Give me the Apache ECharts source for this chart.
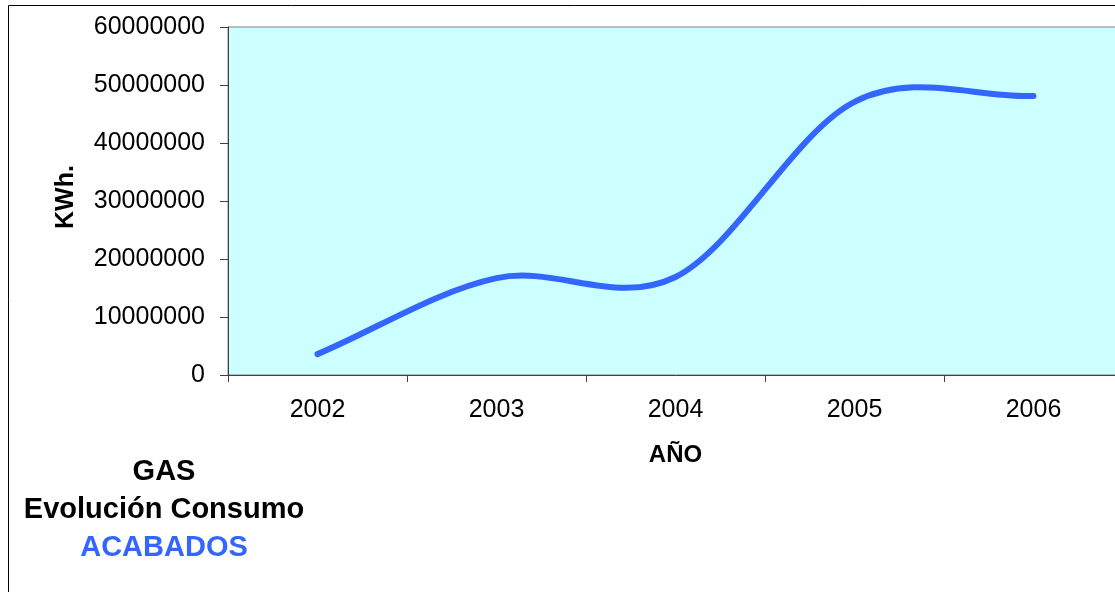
<!DOCTYPE html>
<html>
<head>
<meta charset="utf-8">
<script src="https://cdn.jsdelivr.net/npm/echarts@6/dist/echarts.min.js"></script>
<style>
  html, body { margin: 0; padding: 0; background: #ffffff; overflow: hidden; }
  #chart { width: 1140px; height: 592px; }
</style>
</head>
<body>
<div id="chart"></div>
<script>
// Yearly gas consumption (kWh) for the finishing section
const years = ['2002', '2003', '2004', '2005', '2006'];
const consumo = [3600000, 16700000, 16900000, 47100000, 48100000];
const yTicks = [0, 10000000, 20000000, 30000000, 40000000, 50000000, 60000000];

const FONT = '"Liberation Sans", Arial, sans-serif';
const BLUE = '#3366FF';

// Spreadsheet-style smoothed line: cubic Bezier through every point,
// tangents from the neighbouring points (end points reflected).
function smoothPath(api) {
  const pts = consumo.map((v, i) => api.coord([i, v]));
  const n = pts.length;
  const at = i => {
    if (i < 0) return [2 * pts[0][0] - pts[1][0], 2 * pts[0][1] - pts[1][1]];
    if (i >= n) return [2 * pts[n - 1][0] - pts[n - 2][0], 2 * pts[n - 1][1] - pts[n - 2][1]];
    return pts[i];
  };
  let d = 'M' + pts[0][0] + ' ' + pts[0][1];
  for (let i = 0; i < n - 1; i++) {
    const p0 = at(i - 1), p1 = at(i), p2 = at(i + 1), p3 = at(i + 2);
    const c1 = [p1[0] + (p2[0] - p0[0]) / 6, p1[1] + (p2[1] - p0[1]) / 6];
    const c2 = [p2[0] - (p3[0] - p1[0]) / 6, p2[1] - (p3[1] - p1[1]) / 6];
    d += ' C' + c1[0] + ' ' + c1[1] + ' ' + c2[0] + ' ' + c2[1] + ' ' + p2[0] + ' ' + p2[1];
  }
  return d;
}

const chart = echarts.init(document.getElementById('chart'), null, { renderer: 'canvas' });

chart.setOption({
  animation: false,
  backgroundColor: '#ffffff',
  title: [
    { text: 'GAS', left: 159, top: 452, textAlign: 'center',
      textStyle: { fontFamily: FONT, fontSize: 29, fontWeight: 'bold', color: '#000000' } },
    { text: 'Evolución Consumo', left: 159, top: 490, textAlign: 'center',
      textStyle: { fontFamily: FONT, fontSize: 29, fontWeight: 'bold', color: '#000000' } },
    { text: 'ACABADOS', left: 159, top: 528, textAlign: 'center',
      textStyle: { fontFamily: FONT, fontSize: 29, fontWeight: 'bold', color: BLUE } }
  ],
  graphic: [
    // outer chart frame
    { type: 'rect', z: 0, silent: true,
      shape: { x: 8.5, y: 5.5, width: 1200, height: 700 },
      style: { fill: 'none', stroke: '#000000', lineWidth: 1 } }
  ],
  grid: {
    left: 228, top: 27, width: 895, height: 348,
    show: true, backgroundColor: '#CCFFFF', borderColor: '#808080', borderWidth: 1
  },
  xAxis: {
    type: 'category',
    data: years,
    boundaryGap: true,
    name: 'AÑO',
    nameLocation: 'middle',
    nameGap: 68,
    nameTextStyle: { fontFamily: FONT, fontSize: 24, fontWeight: 'bold', color: '#000000' },
    axisLine: { lineStyle: { color: '#404040', width: 1 } },
    axisTick: { show: true, length: 7, lineStyle: { color: '#404040' } },
    axisLabel: { fontFamily: FONT, fontSize: 25, color: '#000000', margin: 23 },
    splitLine: { show: false }
  },
  yAxis: {
    type: 'value',
    min: yTicks[0],
    max: yTicks[yTicks.length - 1],
    interval: yTicks[1] - yTicks[0],
    name: 'KWh.',
    nameLocation: 'middle',
    nameGap: 149,
    nameRotate: 90,
    nameTextStyle: { fontFamily: FONT, fontSize: 25, fontWeight: 'bold', color: '#000000',
      padding: [0, 0, 0, 8] },
    axisLine: { show: true, lineStyle: { color: '#404040', width: 1 } },
    axisTick: { show: true, length: 8, lineStyle: { color: '#404040' } },
    axisLabel: { fontFamily: FONT, fontSize: 25, color: '#000000', margin: 23,
      formatter: v => String(v) },
    splitLine: { show: false }
  },
  series: [{
    type: 'custom',
    data: consumo.map((v, i) => [i, v]),
    encode: { x: 0, y: 1 },
    renderItem: (params, api) => {
      if (params.dataIndex !== 0) return null;
      return {
        type: 'path',
        shape: { pathData: smoothPath(api) },
        style: { fill: 'none', stroke: BLUE, lineWidth: 6, lineCap: 'round', lineJoin: 'round' }
      };
    }
  }]
});
</script>
</body>
</html>
